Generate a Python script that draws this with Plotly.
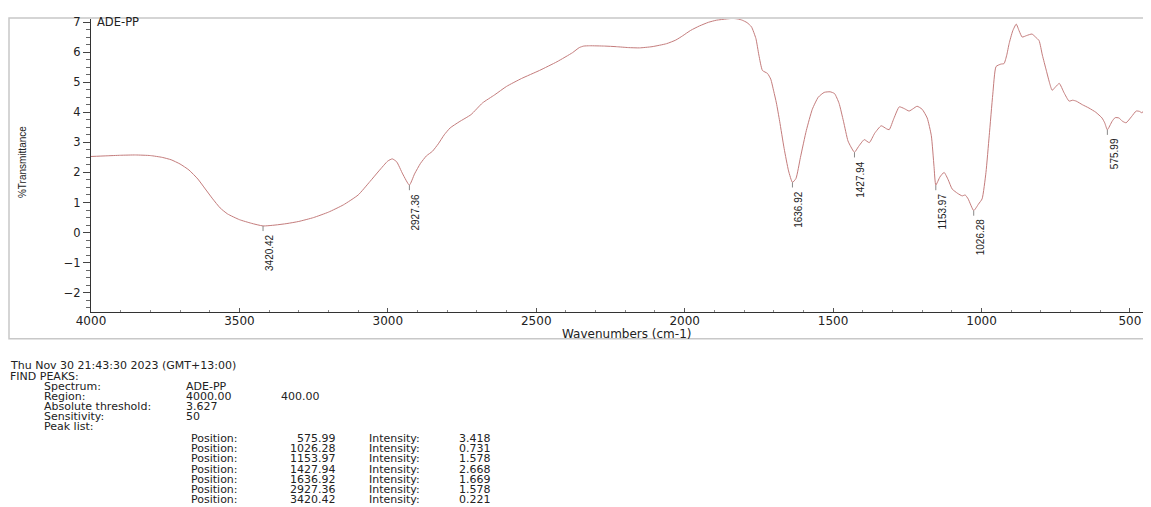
import plotly.graph_objects as go

# ---------------- data ----------------
wavenumbers = [4000, 3950, 3900, 3850, 3800, 3760, 3730, 3700, 3670, 3640, 3615, 3590, 3565, 3540,
               3500, 3460, 3420.42, 3380, 3340, 3300, 3250, 3200, 3150, 3100, 3060, 3030, 3000,
               2985, 2970, 2950, 2927.36, 2910, 2890, 2870, 2850, 2830, 2810, 2790, 2760, 2720,
               2681, 2640, 2600, 2550, 2489, 2430, 2378, 2355, 2340, 2320, 2270, 2230, 2190, 2152,
               2110, 2061, 2030, 2007, 1980, 1950, 1920, 1893, 1860, 1839, 1820, 1806, 1790, 1775,
               1760, 1750, 1738, 1721, 1710, 1700, 1691, 1680, 1665, 1650, 1636.92, 1625, 1610,
               1590, 1570, 1550, 1530, 1510, 1495, 1480, 1465, 1450, 1440, 1427.94, 1415, 1395,
               1378, 1360, 1338, 1320, 1311, 1295, 1277, 1260, 1244, 1230, 1217, 1200, 1183, 1169,
               1160, 1153.97, 1140, 1126, 1112, 1099, 1080, 1065, 1055, 1045, 1026.28, 1010, 998,
               985, 974, 962, 951, 935, 924, 915, 907, 895, 883, 873, 863, 848, 830, 818, 806, 795,
               782, 770, 762, 750, 738, 722, 705, 693, 681, 660, 638, 615, 594, 585, 575.99, 560,
               550, 537, 525, 513, 495, 479, 468, 459, 445, 436, 429]
transmittance = [2.53, 2.55, 2.57, 2.58, 2.56, 2.50, 2.42, 2.28, 2.08, 1.78, 1.45, 1.12, 0.82, 0.62,
                 0.43, 0.31, 0.221, 0.25, 0.30, 0.37, 0.50, 0.68, 0.92, 1.25, 1.70, 2.05, 2.38,
                 2.45, 2.35, 1.95, 1.578, 1.95, 2.30, 2.55, 2.70, 2.95, 3.25, 3.48, 3.68, 3.92,
                 4.31, 4.58, 4.86, 5.12, 5.39, 5.68, 5.98, 6.15, 6.20, 6.21, 6.20, 6.18, 6.15, 6.14,
                 6.18, 6.28, 6.40, 6.54, 6.72, 6.87, 6.99, 7.06, 7.10, 7.12, 7.10, 7.06, 6.98, 6.84,
                 6.45, 5.90, 5.39, 5.29, 5.10, 4.70, 4.31, 3.70, 2.80, 2.05, 1.669, 1.80, 2.50,
                 3.40, 4.10, 4.50, 4.66, 4.68, 4.62, 4.30, 3.70, 3.05, 2.85, 2.668, 2.85, 3.09,
                 2.99, 3.30, 3.55, 3.45, 3.42, 3.80, 4.18, 4.12, 4.04, 4.12, 4.20, 4.10, 3.81, 3.22,
                 2.20, 1.578, 1.85, 2.00, 1.75, 1.45, 1.30, 1.22, 1.25, 1.12, 0.731, 0.95, 1.12,
                 2.00, 3.22, 4.60, 5.52, 5.60, 5.62, 5.90, 6.28, 6.70, 6.93, 6.70, 6.50, 6.55, 6.60,
                 6.50, 6.38, 5.90, 5.40, 4.95, 4.73, 4.85, 4.96, 4.65, 4.37, 4.40, 4.37, 4.25, 4.14,
                 4.00, 3.81, 3.65, 3.418, 3.70, 3.82, 3.81, 3.70, 3.65, 3.85, 4.04, 4.03, 3.98,
                 4.25, 4.54, 4.62]

peak_positions = [575.99, 1026.28, 1153.97, 1427.94, 1636.92, 2927.36, 3420.42]
peak_intensities = [3.418, 0.731, 1.578, 2.668, 1.669, 1.578, 0.221]

spectrum_name = "ADE-PP"
timestamp = "Thu Nov 30 21:43:30 2023 (GMT+13:00)"
region = ["4000.00", "400.00"]
threshold = "3.627"
sensitivity = "50"

# ---------------- layout geometry (page pixels; page has an 8px body margin) ----------------
OFF = 8
W, H = 1151, 507
L, R, T, B = 91, 1151, 15, 312   # plot area in page pixels


def px(x):
    return (x - L) / (R - L)


def py(y):
    return (B - y) / (B - T)


LINE = "#c47c7c"
TXT = "#222222"

fig = go.Figure()
fig.add_trace(go.Scatter(x=wavenumbers, y=transmittance, mode="lines",
                         line=dict(color=LINE, width=1, shape="spline", smoothing=0.5),
                         hoverinfo="x+y", showlegend=False))

# peak tick marks
tx, ty = [], []
for p, v in zip(peak_positions, peak_intensities):
    tx += [p, p, None]
    ty += [v, v - 0.17, None]
fig.add_trace(go.Scatter(x=tx, y=ty, mode="lines", line=dict(color="#888888", width=1),
                         hoverinfo="skip", showlegend=False))

ann = []
for p, v in zip(peak_positions, peak_intensities):
    ann.append(dict(x=p, y=v, xref="x", yref="y", text=f"{p:.2f}", showarrow=False,
                    textangle=-90, xanchor="left", yanchor="top", xshift=-1, yshift=-6,
                    font=dict(family="Liberation Sans", size=10, color=TXT)))

# labels within frame
ann.append(dict(x=px(95), y=py(18), xref="paper", yref="paper", text=spectrum_name,
                showarrow=False, xanchor="left", yanchor="middle",
                font=dict(family="DejaVu Sans", size=11.5, color=TXT)))
ann.append(dict(x=px(22), y=py(160), xref="paper", yref="paper", text="%Transmittance",
                showarrow=False, textangle=-90, xanchor="center", yanchor="middle",
                font=dict(family="Liberation Sans", size=10, color=TXT)))
ann.append(dict(x=px(626), y=py(334), xref="paper", yref="paper", text="Wavenumbers (cm-1)",
                showarrow=False, xanchor="center", yanchor="middle",
                font=dict(family="DejaVu Sans", size=12, color=TXT)))

# report text block
TF = dict(family="DejaVu Sans", size=11, color=TXT)


def txt(x, y, s, anchor="left"):
    ann.append(dict(x=px(x), y=py(y), xref="paper", yref="paper", text=s, showarrow=False,
                    xanchor=anchor, yanchor="middle", font=TF, borderpad=0))


txt(9, 366, timestamp)
txt(9, 377, "FIND PEAKS:")
txt(43, 388, "Spectrum:")
txt(185, 388, spectrum_name)
txt(43, 398, "Region:")
txt(185, 398, region[0])
txt(280, 398, region[1])
txt(43, 408, "Absolute threshold:")
txt(185, 408, threshold)
txt(43, 418, "Sensitivity:")
txt(185, 418, sensitivity)
txt(43, 428, "Peak list:")
row_y = [440, 450.5, 461, 471.5, 482, 492, 502]
for i, (p, v) in enumerate(zip(peak_positions, peak_intensities)):
    txt(190, row_y[i], "Position:")
    txt(337, row_y[i], f"{p:.2f}", anchor="right")
    txt(368, row_y[i], "Intensity:")
    txt(458, row_y[i], f"{v:.3f}")

fig.update_layout(
    width=W, height=H,
    margin=dict(l=L - OFF, r=W - (R - OFF), t=T - OFF, b=H - (B - OFF)),
    paper_bgcolor="white", plot_bgcolor="white", showlegend=False,
    annotations=ann,
    shapes=[dict(type="rect", xref="paper", yref="paper", x0=px(9), x1=px(1170),
                 y0=py(339), y1=py(14), line=dict(color="#c8c8c8", width=1.5), layer="below")],
    xaxis=dict(range=[4000, 429], tick0=0, dtick=500, showgrid=False, zeroline=False,
               showline=True, linecolor="#333333", linewidth=1.2, ticks="inside", ticklen=4,
               tickcolor="#555555", minor=dict(dtick=100, ticks="inside", ticklen=2, tickcolor="#888888"),
               ticklabelstandoff=-3,
               tickfont=dict(family="DejaVu Sans", size=12, color=TXT)),
    yaxis=dict(range=[-2.64, 7.1], dtick=1, showgrid=False, zeroline=False, showline=True,
               linecolor="#333333", linewidth=1.2, ticks="outside", ticklen=7, tickcolor="#444444",
               minor=dict(dtick=0.25, ticks="outside", ticklen=4, tickcolor="#666666"),
               tickfont=dict(family="DejaVu Sans", size=11.5, color=TXT)),
)

fig.write_html("out.html")
